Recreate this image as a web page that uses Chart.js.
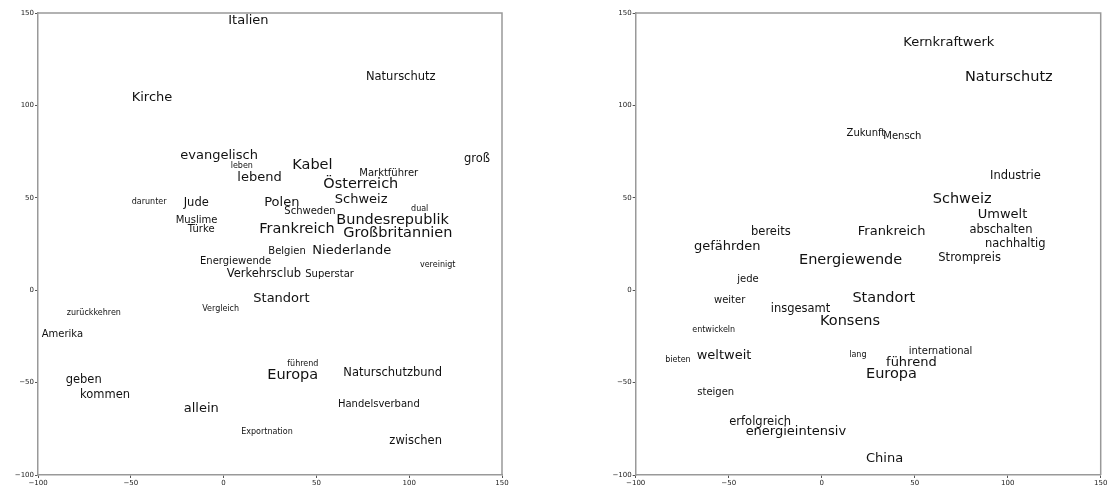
<!DOCTYPE html>
<html>
<head>
<meta charset="utf-8">
<script src="https://cdn.jsdelivr.net/npm/chart.js@4.4.1/dist/chart.umd.min.js"></script>
<style>
	body { margin: 0; background: #fff; }
	#wrap { position: relative; width: 1110px; height: 488px; }
	canvas { position: absolute; top: 0; }
	#left_canvas { left: 0; }
	#right_canvas { left: 555px; }
</style>
</head>
<body>
<div id="wrap">
	<canvas id="left_canvas" width="555" height="488"></canvas>
	<canvas id="right_canvas" width="555" height="488"></canvas>
</div>
<script>
'use strict';

// left panel
const leftWords = ['Italien', 'Kirche', 'evangelisch', 'leben', 'lebend', 'darunter', 'Jude', 'Muslime', 'Türke', 'Polen',
	'Frankreich', 'Naturschutz', 'groß', 'Kabel', 'Marktführer', 'Österreich', 'Schweiz', 'Schweden', 'dual', 'Bundesrepublik',
	'Großbritannien', 'Belgien', 'Niederlande', 'Energiewende', 'Verkehrsclub', 'Superstar', 'vereinigt', 'Standort', 'Vergleich', 'zurückkehren',
	'Amerika', 'führend', 'Europa', 'Naturschutzbund', 'geben', 'kommen', 'allein', 'Handelsverband', 'Exportnation', 'zwischen'];
const leftX = [2.5, -49.5, -23.3, 3.8, 7.4, -49.5, -21.5, -25.8, -19.3, 21.9,
	19.2, 76.7, 129.5, 37, 73.1, 53.7, 59.9, 32.7, 101, 60.7,
	64.5, 24.1, 47.8, -12.7, 1.7, 44, 105.8, 16, -11.5, -84.5,
	-98, 34.3, 23.5, 64.5, -85.1, -77.4, -21.5, 61.6, 9.5, 89.3];
const leftY = [144, 102.4, 71, 66, 59.1, 46.6, 45.6, 36.5, 31.3, 45.6,
	30.8, 113.7, 69.2, 65.8, 62, 55.5, 47.4, 41.2, 42.9, 36,
	28.6, 19.6, 19.4, 14, 7, 7, 12.7, -6.2, -11.1, -13.3,
	-25.2, -41, -48, -46.3, -50.4, -58.5, -66, -63.4, -77.8, -83.2];
const leftWeight = [4, 4, 4, 1, 4, 1, 3, 2, 2, 4,
	5, 3, 3, 5, 2, 5, 4, 2, 1, 5,
	5, 2, 4, 2, 3, 2, 1, 4, 1, 1,
	2, 1, 5, 3, 3, 3, 4, 2, 1, 3];

// right panel
const rightWords = ['Kernkraftwerk', 'Naturschutz', 'Zukunft', 'Mensch', 'Industrie', 'Schweiz', 'Umwelt', 'Frankreich', 'abschalten', 'nachhaltig',
	'bereits', 'gefährden', 'Energiewende', 'Strompreis', 'jede', 'weiter', 'insgesamt', 'Standort', 'Konsens', 'entwickeln',
	'weltweit', 'bieten', 'lang', 'international', 'führend', 'Europa', 'steigen', 'erfolgreich', 'energieintensiv', 'China'];
const rightX = [43.9, 77, 13.4, 33.1, 90.5, 59.7, 83.9, 19.4, 79.4, 87.8,
	-38, -68.7, -12.2, 62.7, -45.4, -57.9, -27.4, 16.5, -0.9, -69.6,
	-67.2, -84.1, 14.8, 46.8, 34.6, 23.8, -66.9, -49.7, -40.9, 23.8];
const rightY = [132.1, 113.2, 83.6, 81.7, 60, 47, 38.9, 29.9, 30.8, 23.4,
	29.9, 21.8, 14, 16, 4.6, -6.8, -11.6, -6.2, -18.8, -22.5,
	-37.4, -38.7, -36.3, -34.7, -41, -47.7, -56.7, -72.9, -78.4, -92.8];
const rightWeight = [4, 5, 2, 2, 3, 5, 4, 4, 3, 3,
	3, 4, 5, 3, 2, 2, 3, 5, 5, 1,
	4, 1, 1, 2, 4, 5, 2, 3, 4, 4];

const tickValues = [-100, -50, 0, 50, 100, 150];

const fontSizes = {1: 8, 2: 10, 3: 11.5, 4: 13, 5: 14.5};
const spineColor = '#999999';

// draws each word at its (x, y) through the chart scales, plus the closed frame
const wordPlugin = {
	id: 'words',
	afterDatasetsDraw(chart) {
		const ctx = chart.ctx;
		const xs = chart.scales.x, ys = chart.scales.y;
		const ds = chart.data.datasets[0];
		ctx.save();
		ctx.fillStyle = '#111';
		ctx.textAlign = 'left';
		ctx.textBaseline = 'alphabetic';
		ds.data.forEach((p, i) => {
			ctx.font = fontSizes[ds.weights[i]] + 'px "DejaVu Sans"';
			ctx.fillText(ds.words[i], xs.getPixelForValue(p.x), ys.getPixelForValue(p.y));
		});
		const a = chart.chartArea;
		ctx.strokeStyle = spineColor;
		ctx.lineWidth = 1.5;
		ctx.beginPath();
		ctx.moveTo(a.left, a.top);
		ctx.lineTo(a.right, a.top);
		ctx.lineTo(a.right, a.bottom);
		ctx.stroke();
		ctx.restore();
	}
};

function axis(leftWidth, bottomHeight, isY) {
	return {
		type: 'linear',
		min: -100,
		max: 150,
		afterBuildTicks: (s) => { s.ticks = tickValues.map(v => ({value: v})); },
		afterFit: (s) => {
			if (isY) s.width = leftWidth; else s.height = bottomHeight;
		},
		border: { color: spineColor, width: 1.5 },
		grid: { drawOnChartArea: false, drawTicks: true, tickLength: 3, tickColor: '#555' },
		ticks: {
			color: '#222',
			padding: 1,
			font: { family: 'DejaVu Sans', size: 7 },
			callback: (v) => String(v).replace('-', '\u2212')
		}
	};
}

function init_chart(id, words, xv, yv, weights, leftWidth, rightPad) {
	const points = xv.map((x, i) => ({x: x, y: yv[i]}));
	return new Chart(document.getElementById(id).getContext('2d'), {
		type: 'scatter',
		data: {
			datasets: [{
				data: points,
				words: words,
				weights: weights,
				pointRadius: 0,
				showLine: false
			}]
		},
		options: {
			responsive: false,
			animation: false,
			layout: { padding: { left: 0, top: 13, right: rightPad, bottom: 0 } },
			plugins: { legend: { display: false }, tooltip: { enabled: false } },
			scales: {
				x: axis(leftWidth, 13, false),
				y: axis(leftWidth, 13, true)
			}
		},
		plugins: [wordPlugin]
	});
}

init_chart('left_canvas', leftWords, leftX, leftY, leftWeight, 38, 53);
init_chart('right_canvas', rightWords, rightX, rightY, rightWeight, 80.7, 9.3);
</script>
</body>
</html>
